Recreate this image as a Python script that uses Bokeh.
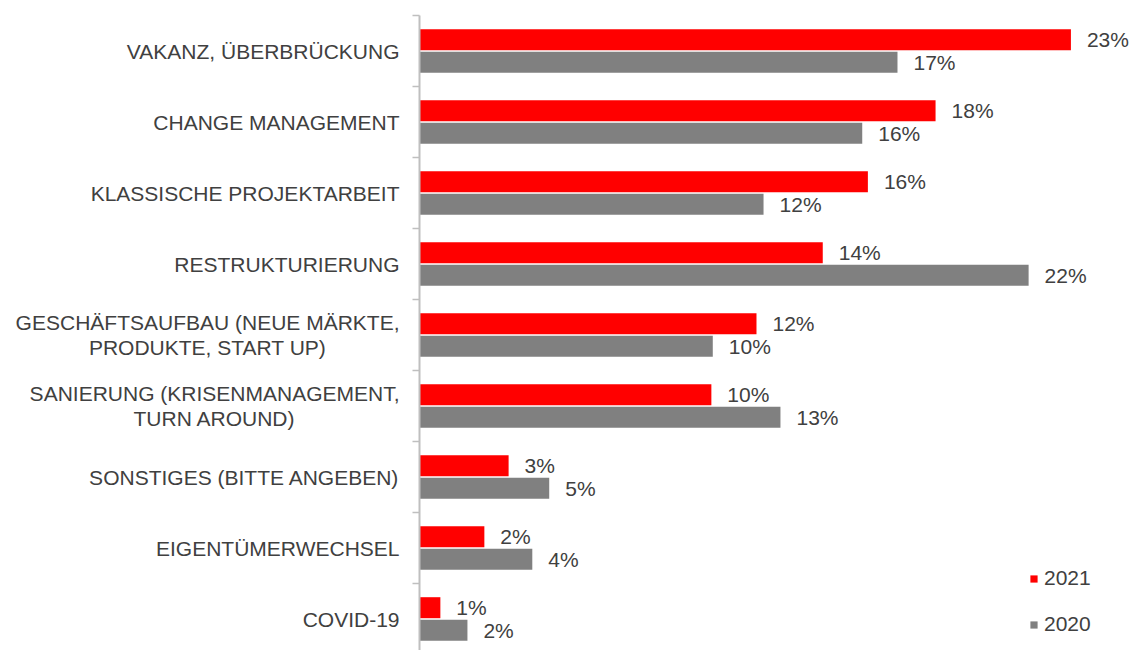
from bokeh.plotting import figure
from bokeh.models import Range1d, ColumnDataSource, Legend, LegendItem
from bokeh.core.properties import value
from bokeh.embed import file_html
from bokeh.resources import INLINE

categories = [
    "VAKANZ, ÜBERBRÜCKUNG",
    "CHANGE MANAGEMENT",
    "KLASSISCHE PROJEKTARBEIT",
    "RESTRUKTURIERUNG",
    "GESCHÄFTSAUFBAU (NEUE MÄRKTE,\nPRODUKTE, START UP)",
    "SANIERUNG (KRISENMANAGEMENT,\nTURN AROUND)",
    "SONSTIGES (BITTE ANGEBEN)",
    "EIGENTÜMERWECHSEL",
    "COVID-19",
]
values_2021 = [23.1, 18.3, 15.9, 14.3, 11.95, 10.35, 3.16, 2.3, 0.74]
values_2020 = [16.95, 15.7, 12.2, 21.6, 10.4, 12.8, 4.6, 4.0, 1.7]
series_names = ["2021", "2020"]
colors = ["#FF0000", "#808080"]

FONT_NAME = "Liberation Sans"
FONT = value(FONT_NAME)
FS = "21px"
TXT = "#404040"
PX_PER_UNIT = 28.2      # px per percent
AXIS_PX = 419           # axis position within the figure
GROUP_PX = 71           # px per category
TOP_PX = 15             # first boundary from top
W, H = 1132, 650

x_start = -AXIS_PX / PX_PER_UNIT
x_end = (W - AXIS_PX) / PX_PER_UNIT
y_top = -(TOP_PX + GROUP_PX / 2) / GROUP_PX
y_bottom = (H - TOP_PX - GROUP_PX / 2) / GROUP_PX

p = figure(width=W, height=H, x_range=Range1d(x_start, x_end),
           y_range=Range1d(y_bottom, y_top),
           output_backend="svg", toolbar_location=None,
           x_axis_type=None, y_axis_type=None, min_border=0)
p.outline_line_color = None
p.xgrid.visible = False
p.ygrid.visible = False

idx = list(range(len(categories)))
off = 11.3 / GROUP_PX
bar_h = 21 / GROUP_PX

renderers = []
for k, (vals, col) in enumerate(zip([values_2021, values_2020], colors)):
    ys = [i + (-off if k == 0 else off) for i in idx]
    src = ColumnDataSource(dict(y=ys, right=vals,
                                lab=[f"{round(v)}%" for v in vals]))
    r = p.hbar(y="y", left=0, right="right", height=bar_h, source=src,
               fill_color=col, line_color=None)
    renderers.append(r)
    p.text(x="right", y="y", text="lab", source=src, x_offset=16,
           text_align="left", text_baseline="middle", text_font=FONT,
           text_font_size=FS, text_color=TXT)

# axis line and ticks
p.segment(x0=[0], y0=[-0.5], x1=[0], y1=[y_bottom], line_color="#bfbfbf", line_width=2)
bounds = [i - 0.5 for i in range(len(categories) + 1)]
p.segment(x0=[0] * len(bounds), y0=bounds, x1=[-7 / PX_PER_UNIT] * len(bounds), y1=bounds,
          line_color="#bfbfbf", line_width=1.5)

# category labels
p.text(x=[0] * len(idx), y=idx, text=categories, x_offset=-20,
       anchor=value("center_right"), text_align=value("center"),
       text_baseline=value("middle"), text_font=FONT, text_font_size=FS,
       text_color=TXT, text_line_height=1.05)

legend = Legend(items=[LegendItem(label=series_names[0], renderers=[renderers[0]]),
                       LegendItem(label=series_names[1], renderers=[renderers[1]])],
                location=(1029, 14), glyph_width=9, glyph_height=9,
                label_text_font=FONT_NAME, label_text_font_size=FS,
                label_text_color=TXT, label_standoff=6, spacing=22,
                label_height=24, padding=0, margin=0,
                border_line_color=None, background_fill_alpha=0)
p.add_layout(legend)

open("out.html", "w").write(file_html(p, INLINE))
